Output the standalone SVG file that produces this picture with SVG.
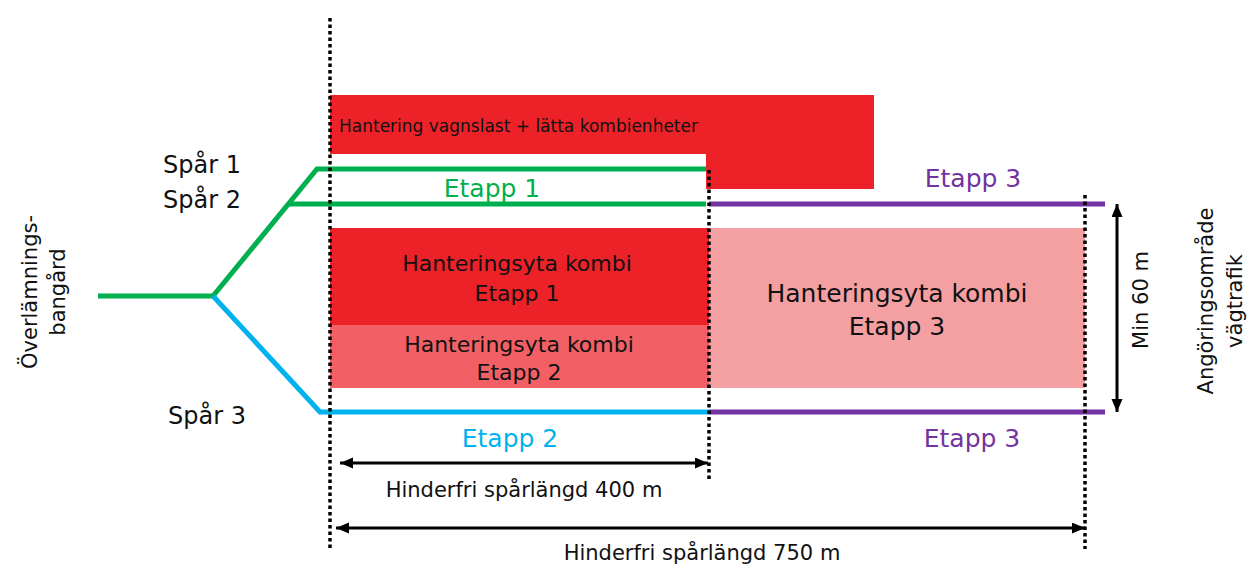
<svg xmlns="http://www.w3.org/2000/svg" width="1258" height="575" viewBox="0 0 1258 575">
<style>
text{font-family:"DejaVu Sans","Liberation Sans",sans-serif;fill:#111}
.lbl{font-size:24px}
.side{font-size:21px}
.et{font-size:25px}
.dim{font-size:21px}
.trk{fill:none;stroke-width:5;stroke-linejoin:miter}
.g{stroke:#00AF4D}.b{stroke:#00B2EE}.p{stroke:#7232A0}
.dot{fill:none;stroke:#000;stroke-width:3.5;stroke-dasharray:3.5 3}
.arr{fill:none;stroke:#000;stroke-width:3;marker-start:url(#ah);marker-end:url(#ah)}
</style>
<defs>
<marker id="ah" markerUnits="userSpaceOnUse" markerWidth="14" markerHeight="12" refX="13" refY="5.5" orient="auto-start-reverse">
<path d="M0,0 L13,5.5 L0,11 Z" fill="#000"/>
</marker>
</defs>
<rect width="1258" height="575" fill="#fff"/>

<g id="area-vagnslast">
<path d="M330,95 H874 V189 H706 V154 H330 Z" fill="#ED2229"/>
<text x="339" y="132" style="font-size:17px">Hantering vagnslast + lätta kombienheter</text>
</g>
<g id="area-etapp1">
<rect x="330" y="228" width="379" height="97" fill="#ED2229"/>
<text x="517" y="271" text-anchor="middle" style="font-size:22px">Hanteringsyta kombi</text>
<text x="517" y="301" text-anchor="middle" style="font-size:22px">Etapp 1</text>
</g>
<g id="area-etapp2">
<rect x="330" y="325" width="379" height="63" fill="#F26065"/>
<text x="519" y="352" text-anchor="middle" style="font-size:22px">Hanteringsyta kombi</text>
<text x="519" y="380" text-anchor="middle" style="font-size:22px">Etapp 2</text>
</g>
<g id="area-etapp3">
<rect x="709" y="228" width="376" height="160" fill="#F4A0A2"/>
<text x="897" y="302" text-anchor="middle" style="font-size:25px">Hanteringsyta kombi</text>
<text x="897" y="335" text-anchor="middle" style="font-size:25px">Etapp 3</text>
</g>

<g id="connectors">
<polyline class="trk g" points="98,296 213,296 317,169 706,169"/>
<polyline class="trk g" points="288,204 706,204"/>
<polyline class="trk b" points="213,296 320,412 709,412"/>
<line class="trk p" x1="709" y1="204" x2="1105" y2="204"/>
<line class="trk p" x1="709" y1="412" x2="1105" y2="412"/>
<line class="dot" x1="330" y1="18" x2="330" y2="551"/>
<line class="dot" x1="709" y1="170" x2="709" y2="481"/>
<line class="dot" x1="1085" y1="195" x2="1085" y2="549"/>
<line class="arr" x1="340" y1="463" x2="708" y2="463"/>
<line class="arr" x1="336" y1="528" x2="1085" y2="528"/>
<line class="arr" x1="1117" y1="204" x2="1117" y2="412"/>
</g>

<g id="labels">
<text class="lbl" x="163" y="173">Spår 1</text>
<text class="lbl" x="163" y="208">Spår 2</text>
<text class="lbl" x="168" y="424">Spår 3</text>
<text class="side" x="37" y="292" text-anchor="middle" transform="rotate(-90 37 292)">Överlämnings-</text>
<text class="side" x="65" y="292" text-anchor="middle" transform="rotate(-90 65 292)">bangård</text>
<text class="et" x="492" y="197" text-anchor="middle" style="fill:#00AF4D">Etapp 1</text>
<text class="et" x="510" y="447" text-anchor="middle" style="fill:#00B2EE">Etapp 2</text>
<text class="et" x="973" y="187" text-anchor="middle" style="fill:#7232A0">Etapp 3</text>
<text class="et" x="972" y="447" text-anchor="middle" style="fill:#7232A0">Etapp 3</text>
<text class="dim" x="524" y="497" text-anchor="middle">Hinderfri spårlängd 400 m</text>
<text class="dim" x="702" y="560" text-anchor="middle">Hinderfri spårlängd 750 m</text>
<text class="side" x="1148" y="300" text-anchor="middle" transform="rotate(-90 1148 300)">Min 60 m</text>
<text class="side" x="1213" y="301" text-anchor="middle" transform="rotate(-90 1213 301)">Angöringsområde</text>
<text class="side" x="1242" y="301" text-anchor="middle" transform="rotate(-90 1242 301)">vägtrafik</text>
</g>
</svg>
